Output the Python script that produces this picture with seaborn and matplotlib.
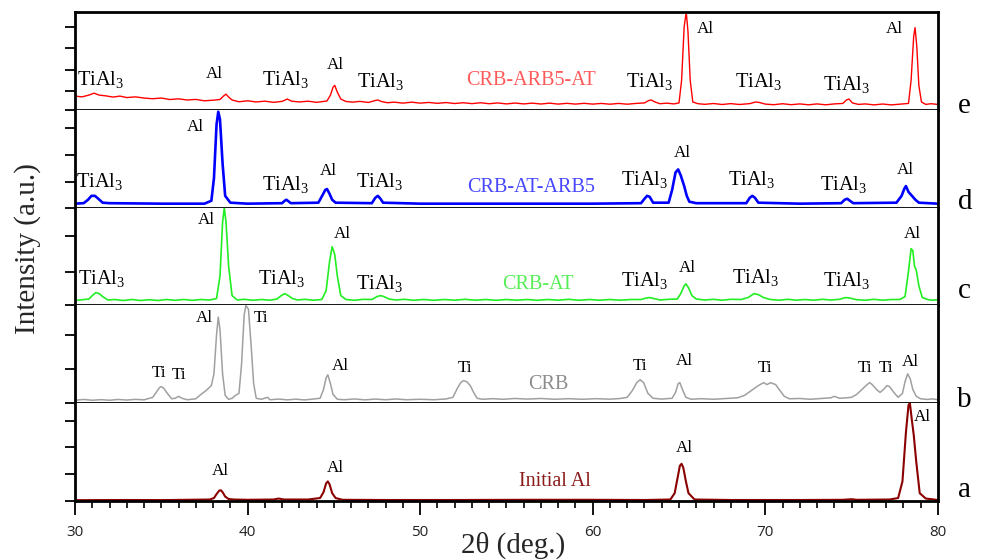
import matplotlib
matplotlib.use("Agg")
import matplotlib.pyplot as plt
import pandas as pd
import seaborn as sns
from matplotlib.ticker import MultipleLocator

# ---------------- data (2theta in degrees, intensity in % of panel height) -------------
initial_al = [(30, 0.8), (33, 1.0), (35, 0.9), (36.5, 1.2), (37.8, 1.5), (38.05, 3), (38.2, 7),
              (38.35, 10.5), (38.45, 11), (38.55, 9), (38.7, 4.5), (38.9, 2), (39.2, 1.5),
              (40, 1.2), (41.5, 1.5), (41.8, 2.5), (42.1, 1.5), (43.5, 1.5), (44.2, 3),
              (44.4, 9), (44.55, 18), (44.65, 20), (44.75, 17), (44.9, 8), (45.1, 3), (45.5, 1.2),
              (48, 1.0), (52, 1.0), (56, 1.2), (60, 1.2), (63, 1.0), (64.5, 1.5), (64.75, 8),
              (64.9, 22), (65.05, 36), (65.15, 38), (65.25, 34), (65.4, 20), (65.55, 8),
              (65.9, 1.5), (68, 1.0), (72, 1.0), (74.5, 1.2), (75, 1.8), (75.3, 1.2), (77.2, 1.5),
              (77.7, 3), (77.95, 20), (78.15, 70), (78.3, 98), (78.38, 100), (78.5, 82),
              (78.6, 68), (78.75, 40), (78.95, 8), (79.3, 2.5), (80, 1.0)]

crb = [(30, 3), (30.5, 3.8), (31, 3), (31.5, 3.6), (32, 3), (32.5, 3.8), (33, 3.2), (33.5, 3.9),
       (34, 3.4), (34.5, 6), (34.7, 11), (34.9, 16), (35.0, 17), (35.15, 15), (35.35, 10),
       (35.6, 4.5), (35.8, 5), (36.0, 7), (36.2, 5), (36.5, 3.5), (37.0, 4.5), (37.3, 9),
       (37.6, 13), (37.9, 18), (38.05, 30), (38.2, 70), (38.3, 88), (38.4, 75), (38.55, 30),
       (38.7, 8), (38.9, 4), (39.1, 5), (39.3, 8), (39.5, 10), (39.65, 40), (39.8, 90),
       (39.9, 100), (40.05, 96), (40.2, 60), (40.35, 20), (40.5, 5), (40.8, 4), (41.15, 6),
       (41.3, 3.5), (41.8, 4.2), (42.3, 3.4), (42.8, 4.1), (43.3, 3.3), (43.8, 4.2), (44.2, 5),
       (44.4, 14), (44.55, 26), (44.65, 29), (44.8, 20), (44.95, 9), (45.2, 4), (45.6, 3.5),
       (46.2, 4.3), (46.8, 3.4), (47.4, 4.2), (48, 3.5), (48.6, 4.3), (49.2, 3.5), (50, 4),
       (50.8, 3.5), (51.5, 4.3), (51.9, 6), (52.15, 15), (52.35, 21), (52.5, 23), (52.7, 22),
       (52.9, 18), (53.1, 11), (53.3, 5), (53.6, 4), (54.2, 4.6), (54.8, 4), (55.5, 4.8),
       (56.2, 4.2), (57, 4.8), (57.8, 4), (58.6, 4.6), (59.4, 4), (60.2, 4.6), (61, 4.1),
       (61.6, 4.8), (62.0, 6), (62.3, 13), (62.55, 21), (62.75, 24), (62.95, 21), (63.2, 10),
       (63.5, 5), (64, 4.2), (64.6, 5), (64.8, 11), (64.95, 20), (65.05, 21), (65.2, 14),
       (65.4, 6), (65.7, 4), (66.3, 4.6), (67, 4), (67.7, 4.8), (68.4, 5.5), (68.8, 8),
       (69.2, 13), (69.6, 18), (69.9, 21), (70.1, 19), (70.3, 21), (70.6, 19), (70.85, 13),
       (71.1, 7), (71.4, 4.5), (72, 4.8), (72.6, 4), (73.2, 4.8), (73.8, 5.5), (74.0, 7),
       (74.3, 5), (74.7, 5.5), (75.0, 6), (75.3, 9), (75.6, 14), (75.9, 19), (76.05, 21),
       (76.2, 19), (76.45, 14), (76.65, 11), (76.85, 14), (77.05, 18), (77.2, 17),
       (77.45, 11), (77.7, 6), (77.95, 10), (78.1, 22), (78.25, 30), (78.4, 25), (78.55, 14),
       (78.75, 7), (79.0, 4.5), (79.4, 3.8), (79.7, 4.4), (80, 3.5)]

crb_at = [(30, 5), (30.4, 5.8), (30.8, 6.5), (31.0, 10), (31.2, 13), (31.4, 12), (31.6, 9),
          (31.9, 5.5), (32.3, 6), (32.8, 5), (33.3, 6), (33.8, 5), (34.3, 5.8), (34.8, 5),
          (35.3, 6), (35.8, 5.2), (36.3, 6), (36.8, 5.2), (37.3, 6), (37.8, 5.5), (38.2, 7),
          (38.4, 30), (38.55, 85), (38.65, 100), (38.75, 85), (38.9, 40), (39.1, 10),
          (39.4, 5.5), (39.8, 6.2), (40.3, 5.2), (40.8, 6), (41.3, 5.3), (41.7, 6.5), (41.95, 10),
          (42.15, 12), (42.35, 10), (42.6, 7), (42.9, 5.5), (43.3, 6.2), (43.8, 5.3), (44.3, 6),
          (44.55, 15), (44.75, 45), (44.9, 60), (45.05, 52), (45.2, 30), (45.4, 10), (45.7, 6),
          (46.2, 5.2), (46.7, 6.2), (47.2, 6), (47.5, 9), (47.7, 10), (47.9, 9), (48.2, 6.5),
          (48.6, 5.5), (49.1, 6.2), (49.6, 5.2), (50.2, 6), (50.8, 5.2), (51.4, 6), (52, 5.3),
          (52.6, 6.2), (53.2, 5.3), (53.8, 6), (54.4, 5.2), (55, 6), (55.6, 5.3), (56.2, 6),
          (56.8, 5.2), (57.4, 6), (58, 5.3), (58.6, 6.2), (59.2, 5.2), (59.8, 6), (60.4, 5.3),
          (61, 6), (61.6, 5.3), (62.2, 6), (62.8, 6), (63.1, 7.5), (63.3, 8), (63.55, 7),
          (63.9, 5.5), (64.4, 6.2), (64.9, 6.5), (65.1, 12), (65.3, 20), (65.4, 22), (65.55, 18),
          (65.75, 10), (66.0, 6.5), (66.5, 5.5), (67, 6.2), (67.5, 5.3), (68, 6.2), (68.6, 6),
          (69.0, 8), (69.35, 12), (69.6, 11), (69.9, 8), (70.3, 6), (70.8, 5.3), (71.3, 6.2),
          (71.8, 5.3), (72.3, 6), (72.8, 5.3), (73.3, 6.2), (73.8, 5.5), (74.3, 6.2),
          (74.65, 8), (74.9, 7.5), (75.3, 5.8), (75.8, 5.3), (76.3, 6.2), (76.8, 5.3),
          (77.3, 6), (77.8, 6), (78.1, 9), (78.3, 35), (78.45, 58), (78.55, 56), (78.65, 40),
          (78.75, 36), (78.9, 20), (79.1, 8), (79.4, 6), (79.7, 5.3), (80, 5.8)]

crb_at_arb5 = [(30, 4), (30.5, 4.5), (30.75, 8), (30.95, 12), (31.15, 12), (31.35, 9),
               (31.6, 5), (32, 4.5), (35, 4), (37.5, 4), (37.9, 7), (38.05, 30), (38.2, 85),
               (38.3, 98), (38.4, 90), (38.55, 45), (38.7, 12), (39.0, 5), (40, 4), (42.0, 4.5),
               (42.15, 7), (42.25, 8), (42.4, 6), (42.5, 4.5), (44.1, 5), (44.35, 13),
               (44.5, 18), (44.6, 19), (44.75, 14), (44.9, 8), (45.1, 5), (47.2, 4.5),
               (47.4, 10), (47.55, 12), (47.7, 9), (47.85, 5), (50, 4), (55, 4), (60, 4),
               (62.8, 4.5), (63.0, 9), (63.15, 12), (63.3, 11), (63.5, 5), (64.4, 5),
               (64.6, 18), (64.8, 36), (64.95, 39), (65.1, 33), (65.3, 22), (65.45, 12),
               (65.6, 6), (66, 4.5), (68.9, 4.5), (69.1, 10), (69.25, 12), (69.4, 10),
               (69.6, 5), (72, 4), (74.4, 4.5), (74.6, 8), (74.75, 9), (74.9, 7), (75.1, 4.5),
               (77.6, 5), (77.9, 12), (78.05, 19), (78.15, 22), (78.3, 16), (78.5, 12),
               (78.7, 8), (78.9, 5), (80, 4)]

crb_arb5_at = [(30, 14), (30.4, 13.2), (30.8, 15), (31.1, 17), (31.4, 15), (31.8, 14.2),
               (32.2, 13), (32.6, 14), (33.0, 12.5), (33.5, 13.2), (34, 12), (34.5, 11.3),
               (35, 12), (35.5, 10.5), (36, 11.2), (36.5, 10), (37, 10.6), (37.5, 9.2),
               (38, 9.8), (38.4, 10.5), (38.6, 14), (38.75, 16), (38.9, 13), (39.1, 10),
               (39.5, 8.2), (40, 9.2), (40.5, 8), (41, 8.8), (41.5, 7.6), (42.0, 8.6),
               (42.3, 11), (42.55, 8.8), (43, 8), (43.5, 8.8), (44, 7.6), (44.6, 9),
               (44.8, 15), (44.95, 23), (45.05, 25), (45.2, 18), (45.4, 11), (45.7, 8.5),
               (46.1, 7.8), (46.5, 8.6), (47, 7.5), (47.4, 9.5), (47.55, 10), (47.75, 8.5),
               (48.1, 7.2), (48.5, 7.8), (49, 6.8), (49.5, 7.8), (50, 6.8), (50.5, 7.5),
               (51, 6.6), (51.5, 7.4), (52, 6.4), (52.5, 7.2), (53, 6.3), (53.5, 7.2), (54, 6.2),
               (54.5, 7), (55, 6), (55.5, 6.9), (56, 6), (56.5, 6.8), (57, 5.9), (57.5, 6.8),
               (58, 5.8), (58.5, 6.6), (59, 5.8), (59.5, 6.6), (60, 5.8), (60.5, 6.5),
               (61, 5.7), (61.5, 6.5), (62, 5.7), (62.5, 6.5), (63.0, 7), (63.25, 9.5),
               (63.4, 10), (63.6, 8), (63.9, 6.2), (64.3, 6.8), (64.7, 6), (65.0, 7),
               (65.15, 30), (65.3, 85), (65.42, 100), (65.52, 80), (65.65, 30), (65.8, 8),
               (66.1, 6.2), (66.5, 5.6), (67, 6.4), (67.5, 5.4), (68, 6.3), (68.5, 5.4),
               (69.1, 6.3), (69.45, 8), (69.65, 7.5), (70, 5.8), (70.5, 5.2), (71, 6.2),
               (71.5, 5.2), (72, 6), (72.5, 5.1), (73, 6), (73.5, 5.1), (74, 6), (74.5, 6.5),
               (74.7, 10), (74.85, 11), (75.05, 7), (75.4, 5.5), (75.8, 6), (76.3, 5),
               (76.8, 5.9), (77.3, 5), (77.8, 5.8), (78.3, 6.5), (78.45, 30), (78.6, 75),
               (78.68, 84), (78.78, 65), (78.9, 25), (79.05, 8), (79.3, 5.5), (79.6, 6.2),
               (80, 5.5)]

sample_names = ["CRB-ARB5-AT", "CRB-AT-ARB5", "CRB-AT", "CRB", "Initial Al"]
panel_letters = ["e", "d", "c", "b", "a"]
x_ticks = [30, 40, 50, 60, 70, 80]

TI3 = "TiAl$_3$"
# peak labels: (2theta, height %, text)
labels_e = [(31.5, 25, TI3), (38.05, 32, "Al"), (42.2, 25, TI3), (45.06, 42, "Al"),
            (47.7, 23, TI3), (63.3, 23, TI3), (66.55, 79, "Al"), (69.6, 23, TI3),
            (74.7, 20, TI3), (77.5, 79, "Al")]
labels_d = [(31.45, 21, TI3), (37.0, 78, "Al"), (42.2, 18, TI3), (44.7, 33, "Al"),
            (47.67, 21, TI3), (63.0, 23, TI3), (65.2, 52, "Al"), (69.2, 23, TI3),
            (74.57, 18, TI3), (78.1, 34, "Al")]
labels_c = [(31.56, 22, TI3), (37.6, 83, "Al"), (42.0, 22, TI3), (45.5, 69, "Al"),
            (47.67, 17, TI3), (63.0, 20, TI3), (65.46, 34, "Al"), (69.45, 23, TI3),
            (74.7, 20, TI3), (78.55, 69, "Al")]
labels_b = [(34.87, 27, "Ti"), (36.0, 25, "Ti"), (37.5, 83, "Al"), (40.8, 83, "Ti"),
            (45.4, 34, "Al"), (52.6, 32, "Ti"), (62.73, 34, "Ti"), (65.3, 39, "Al"),
            (70.0, 32, "Ti"), (75.8, 32, "Ti"), (77.0, 32, "Ti"), (78.4, 38, "Al")]
labels_a = [(38.4, 27, "Al"), (45.06, 30, "Al"), (65.3, 50, "Al"), (79.1, 82, "Al")]

# sample name positions (2theta, height %)
name_pos = [(56.4, 25), (56.4, 16), (56.8, 17), (57.4, 14), (57.8, 15)]
letter_y = [-3, -1, 8, -4, 4]

# ---------------- style ----------------
sns.set_theme(style="ticks")
plt.rcParams["font.family"] = ["Liberation Serif", "DejaVu Serif"]
plt.rcParams["mathtext.fontset"] = "custom"
plt.rcParams["mathtext.rm"] = "Liberation Serif"
plt.rcParams["mathtext.it"] = "Liberation Serif"
plt.rcParams["mathtext.default"] = "regular"

line_colors = ["#ff0000", "#0000ff", "#22ee22", "#a0a0a0", "#8b0000"]
line_widths = [1.0, 1.9, 1.2, 1.1, 1.5]
name_colors = ["#ff5a5a", "#4646ff", "#55ee55", "#8c8c8c", "#8b1a1a"]
ytick_sets = [[0, 19, 41, 63, 85], [0, 26, 54, 81], [0, 34, 71], [0, 35, 70], [0, 27.5, 55, 82]]

series = [crb_arb5_at, crb_at_arb5, crb_at, crb, initial_al]
peak_labels = [labels_e, labels_d, labels_c, labels_b, labels_a]

fig, axes = plt.subplots(5, 1, sharex=True, figsize=(9.81, 5.6), dpi=100,
                         gridspec_kw=dict(hspace=0))
fig.subplots_adjust(left=0.0765, right=0.956, top=0.9786, bottom=0.1054)

for i, ax in enumerate(axes):
    df = pd.DataFrame(series[i], columns=["two_theta", "intensity"])
    sns.lineplot(data=df, x="two_theta", y="intensity", ax=ax, color=line_colors[i],
                 linewidth=line_widths[i], estimator=None, sort=False)
    ax.set_xlim(30, 80)
    ax.set_ylim(0, 100)
    ax.set_xlabel("")
    ax.set_ylabel("")
    ax.set_yticks(ytick_sets[i])
    ax.set_yticklabels([])
    ax.tick_params(axis="y", direction="out", length=7, width=1.3, color="black", left=True)
    for s in ["left", "right"]:
        ax.spines[s].set_linewidth(2.0)
        ax.spines[s].set_color("black")
    ax.spines["top"].set_visible(i == 0)
    ax.spines["top"].set_linewidth(2.0)
    ax.spines["top"].set_color("black")
    ax.spines["bottom"].set_linewidth(2.0 if i == 4 else 1.3)
    ax.spines["bottom"].set_color("black")
    ax.spines["right"].set_visible(True)
    if i < 4:
        ax.tick_params(axis="x", which="both", bottom=False, labelbottom=False)
    for (xp, yp, txt) in peak_labels[i]:
        fs = 14.7 if "TiAl" in txt else 12.3
        ax.text(xp, yp, txt, ha="center", va="baseline", fontsize=fs, color="black")
    nx, ny = name_pos[i]
    ax.text(nx, ny, sample_names[i], ha="center", va="baseline", fontsize=14.5,
            color=name_colors[i])
    ax.text(81.56, letter_y[i], panel_letters[i], ha="center", va="baseline", fontsize=21,
            color="black", clip_on=False)

bax = axes[-1]
bax.set_xticks(x_ticks)
bax.xaxis.set_minor_locator(MultipleLocator(1))
bax.tick_params(axis="x", which="major", direction="out", length=10, width=1.3,
                color="black", bottom=True, labelsize=11, pad=7)
bax.tick_params(axis="x", which="minor", direction="out", length=5, width=1.2,
                color="black", bottom=True)
for lab in bax.get_xticklabels():
    lab.set_family(["Open Sans", "DejaVu Sans"])
    lab.set_color("#222222")

fig.text(513 / 981, 1 - 532 / 560, "2\u03b8 (deg.)", ha="center", va="top", fontsize=21)
fig.text(28 / 981, 1 - 249 / 560, "Intensity (a.u.)", ha="center", va="center",
         rotation=90, fontsize=21)

fig.savefig("out.png", dpi=100)
